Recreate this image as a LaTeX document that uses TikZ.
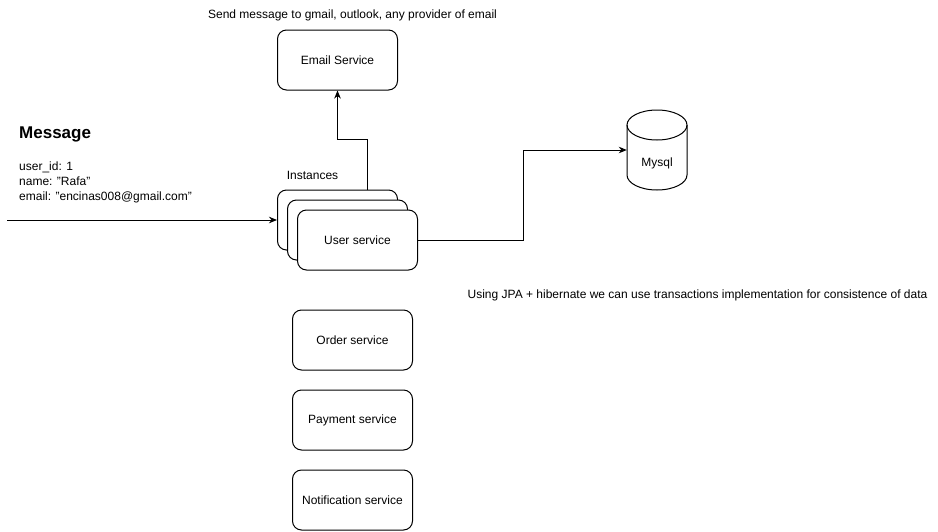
\documentclass[tikz,border=0pt]{standalone}
\usepackage{fontspec}
\setmainfont{Liberation Sans}
\usetikzlibrary{positioning}
\usetikzlibrary{arrows.meta}
\tikzset{
  svc/.style={draw, line width=1pt, rounded corners=9pt, fill=white,
    minimum width=120pt, minimum height=60pt, inner sep=0pt},
  conn/.style={line width=1pt, -{Stealth[length=8pt,width=6.5pt,inset=2.5pt]}},
  txt/.style={inner sep=0pt}
}
\newcommand\qt{\symbol{34}}
\begin{document}
\begin{tikzpicture}[x=1pt,y=-1pt,font=\fontsize{12}{15}\selectfont]
\useasboundingbox (0,0) rectangle (938,531);

% email
\node [txt] (sendnote) at (352.5,15) {Send message to gmail, outlook, any provider of email};
\node [svc] (email) at (337.5,60) {Email Service};

% message
\node [txt, anchor=west] (msgtitle) at (19,134) {\fontsize{17}{20}\selectfont\bfseries Message};
\node [txt, anchor=west, align=left] (msgbody) at (19,182.5) {user\_id: 1\\name: \qt Rafa\qt\\email: \qt encinas008@gmail.com\qt};
\coordinate (msgin) at (7,220);

% user service instances
\node [txt] (instlabel) at (312.5,175) {Instances};
\node [svc] (inst1) at (337.5,220) {};
\node [svc] (inst2) at (347.5,230) {};
\node [svc] (inst3) at (357.5,240) {User service};

% database
\node [minimum width=60pt, minimum height=80pt, inner sep=0pt] (mysql) at (657,150) {};
\draw [line width=1pt, fill=white] (627,125) -- (627,175) arc [start angle=180, end angle=0, x radius=30, y radius=15] -- (687,125);
\draw [line width=1pt] (657,125) ellipse [x radius=30, y radius=15];
\node [txt] (mysqllabel) at (657,163) {Mysql};
\node [txt] (jpanote) at (697.5,295) {Using JPA + hibernate we can use transactions implementation for consistence of data};

% other services
\node [svc] (order) at (352.5,340) {Order service};
\node [svc] (payment) at (352.5,420) {Payment service};
\node [svc] (notify) at (352.5,500) {Notification service};

% connectors
\draw [conn] (msgin) -- (inst1.west);
\draw [conn] ([xshift=30pt]inst1.north) -- ++(0,-50) -| (email.south);
\draw [conn] (inst3.east) -- ++(105,0) |- (mysql.west);
\end{tikzpicture}
\end{document}
